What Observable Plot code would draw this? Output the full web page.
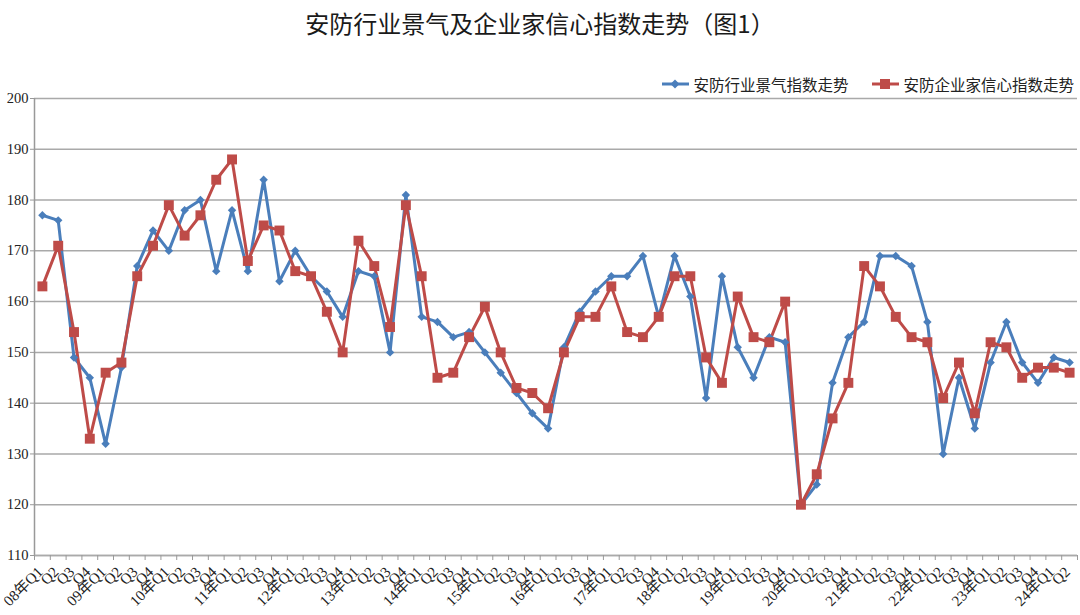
<!DOCTYPE html>
<html>
<head>
<meta charset="utf-8">
<script src="https://cdn.jsdelivr.net/npm/d3@7"></script>
<script src="https://cdn.jsdelivr.net/npm/@observablehq/plot@0.6"></script>
<style>
  html, body { margin: 0; padding: 0; background: #fff; }
  #wrap { width: 1080px; height: 615px; overflow: hidden; font-family: "Noto Sans CJK SC", sans-serif; }
  #title { height: 60px; line-height: 46px; text-align: center; font-size: 24px; color: #1a1a1a; }
  #legend { position: relative; z-index: 2; height: 22px; padding-top: 13px; display: flex; justify-content: flex-end; align-items: center; padding-right: 6px; font-size: 15.5px; color: #222; }
  .item { display: flex; align-items: center; margin-left: 24px; }
  .item svg { margin-right: 4px; }
  #chart { position: relative; z-index: 1; margin-top: -12px; }
  svg { display: block; }
  #chart svg text { font-family: "Liberation Serif", "Times New Roman", "DejaVu Serif", "Noto Sans CJK SC", serif; }
</style>
</head>
<body>
<div id="wrap">
  <div id="title">安防行业景气及企业家信心指数走势（图1）</div>
  <div id="legend"></div>
  <div id="chart"></div>
</div>
<script>
const seriesNames = ["安防行业景气指数走势", "安防企业家信心指数走势"];
const years = ["08","09","10","11","12","13","14","15","16","17","18","19","20","21","22","23","24"];
const quarterLabels = years.flatMap(y => [y + "年Q1", "Q2", "Q3", "Q4"]).slice(0, 66);
const prosperity = [177,176,149,145,132,147,167,174,170,178,180,166,178,166,184,164,170,165,162,157,166,165,150,181,157,156,153,154,150,146,142,138,135,151,158,162,165,165,169,157,169,161,141,165,151,145,153,152,120,124,144,153,156,169,169,167,156,130,145,135,148,156,148,144,149,148];
const confidence = [163,171,154,133,146,148,165,171,179,173,177,184,188,168,175,174,166,165,158,150,172,167,155,179,165,145,146,153,159,150,143,142,139,150,157,157,163,154,153,157,165,165,149,144,161,153,152,160,120,126,137,144,167,163,157,153,152,141,148,138,152,151,145,147,147,146];
const yTicks = [110,120,130,140,150,160,170,180,190,200];

const blue = "#4A7EBB", red = "#BE4B48";
const serif = "'Liberation Serif', 'Times New Roman', 'DejaVu Serif', 'Noto Sans CJK SC', serif";
const idx = quarterLabels.map((_, i) => i);
const data = [
  ...prosperity.map((v, i) => ({i, v, s: seriesNames[0]})),
  ...confidence.map((v, i) => ({i, v, s: seriesNames[1]}))
];
const between = d3.range(-0.5, 66, 1);

// legend
const legend = document.getElementById("legend");
[[seriesNames[0], blue, "diamond"], [seriesNames[1], red, "square"]].forEach(([name, c, sym]) => {
  const it = document.createElement("div");
  it.className = "item";
  const marker = sym === "diamond"
    ? `<path d="M13,6.5 L17.5,11 L13,15.5 L8.5,11 Z" fill="${c}"/>`
    : `<rect x="8" y="6" width="10" height="10" fill="${c}"/>`;
  it.innerHTML = `<svg width="27" height="22"><line x1="0" y1="11" x2="27" y2="11" stroke="${c}" stroke-width="3"/>${marker}</svg><span>${name}</span>`;
  legend.appendChild(it);
});

const chart = Plot.plot({
  width: 1080,
  height: 532,
  marginTop: 15,
  marginBottom: 60,
  marginLeft: 34,
  marginRight: 3,
  style: {fontFamily: serif, fontSize: "14px", color: "#222", background: "transparent", overflow: "visible"},
  x: {type: "linear", domain: [-0.5, 65.5], axis: null},
  y: {domain: [110, 200], axis: null},
  marks: [
    Plot.gridY(yTicks, {stroke: "#a9a9a9", strokeWidth: 1.5, strokeOpacity: 1}),
    Plot.axisY(yTicks, {label: null, tickSize: 4, tickPadding: 2, stroke: "#999", fontSize: 14.5, fill: "#222", fontFamily: serif}),
    Plot.ruleX([-0.5], {stroke: "#999", strokeWidth: 1.5}),
    Plot.ruleY([110], {stroke: "#aaa", strokeWidth: 1.5}),
    Plot.axisX(between, {label: null, tickSize: 5, tickFormat: () => "", stroke: "#999"}),
    Plot.text(idx, {x: d => d, y: 110, text: d => quarterLabels[d], rotate: -45, textAnchor: "end", lineAnchor: "middle", dx: -2, dy: 14, fontSize: 15, fill: "#222", fontFamily: serif}),
    Plot.line(data, {x: "i", y: "v", z: "s", stroke: d => d.s === seriesNames[0] ? blue : red, strokeWidth: 3}),
    Plot.dot(data.filter(d => d.s === seriesNames[0]), {x: "i", y: "v", symbol: "diamond2", r: 3.8, fill: blue, stroke: "none"}),
    Plot.dot(data.filter(d => d.s === seriesNames[1]), {x: "i", y: "v", symbol: "square", r: 5.6, fill: red, stroke: "none"})
  ]
});
document.getElementById("chart").appendChild(chart);
</script>
</body>
</html>
